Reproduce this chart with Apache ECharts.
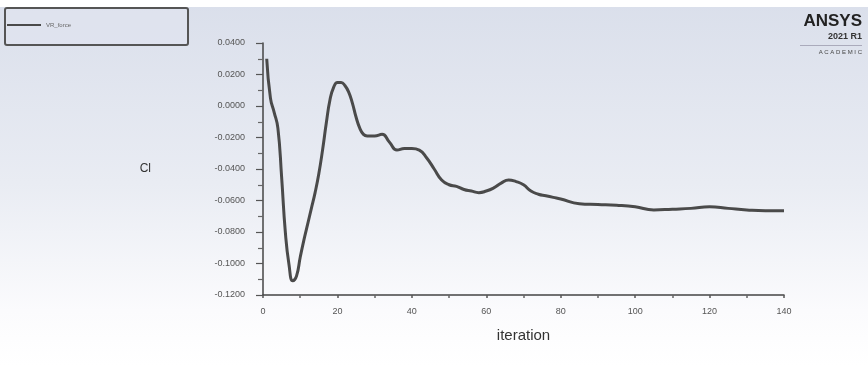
<!DOCTYPE html>
<html>
<head>
<meta charset="utf-8">
<script src="https://cdn.jsdelivr.net/npm/echarts@6/dist/echarts.min.js"></script>
<style>
  html, body { margin: 0; padding: 0; }
  #cl-chart { width: 868px; height: 366px; }
</style>
</head>
<body>
<div id="cl-chart"></div>
<script>
// 迭代步
var iterations = [1, 2, 3, 4, 5, 6, 7, 8, 9, 10, 11, 12, 13, 14, 15, 16, 17, 18, 19, 20,
  21, 22, 23, 24, 25, 26, 27, 28, 30, 32, 34, 36, 38, 40, 42, 44, 46, 48, 50, 52,
  54, 56, 58, 60, 62, 64, 66, 68, 70, 72, 74, 76, 78, 80, 85, 90, 95, 100, 105, 110,
  115, 120, 125, 130, 135, 140];
// Cl 值
var clValues = [0.030, 0.005, -0.004, -0.014, -0.045, -0.080, -0.101, -0.111, -0.108, -0.096,
  -0.085, -0.075, -0.065, -0.055, -0.043, -0.028, -0.011, 0.004, 0.012, 0.015,
  0.015, 0.013, 0.009, 0.002, -0.007, -0.014, -0.018, -0.019, -0.019, -0.018,
  -0.023, -0.028, -0.027, -0.027, -0.028, -0.033, -0.040, -0.047, -0.050, -0.051,
  -0.053, -0.054, -0.055, -0.054, -0.052, -0.049, -0.047, -0.048, -0.050, -0.054,
  -0.056, -0.057, -0.058, -0.059, -0.062, -0.0625, -0.063, -0.064, -0.066, -0.0655,
  -0.065, -0.064, -0.065, -0.066, -0.0665, -0.0665];
var seriesName = 'VR_force';

var myEcharts = echarts.init(document.getElementById('cl-chart'));
var points = iterations.map(function (it, i) { return [it, clValues[i]]; });
var fontFam = '"Liberation Sans", Arial, sans-serif';

myEcharts.setOption({
    animation: false,
    backgroundColor: new echarts.graphic.LinearGradient(0, 0, 0, 1, [
        {offset: 0, color: '#dadfeb'},
        {offset: 0.5, color: '#e9ecf3'},
        {offset: 0.85, color: '#fbfbfd'},
        {offset: 1, color: '#ffffff'}
    ]),
    grid: {left: 263, right: 84, top: 43, bottom: 71},
    legend: {
        left: 5,
        top: 8,
        orient: 'horizontal',
        data: [{name: seriesName, icon: 'rect'}],
        itemWidth: 34,
        itemHeight: 2,
        itemGap: 2,
        padding: [14, 117, 17, 2],
        borderColor: '#555',
        borderWidth: 2,
        borderRadius: 2,
        backgroundColor: 'rgba(225,229,240,0.6)',
        textStyle: {fontSize: 6, color: '#666', fontFamily: fontFam}
    },
    xAxis: {
        type: 'value',
        min: 0,
        max: 140,
        interval: 20,
        name: 'iteration',
        nameLocation: 'middle',
        nameGap: 33,
        nameTextStyle: {fontSize: 15, color: '#333', fontFamily: fontFam},
        axisLine: {onZero: false, lineStyle: {color: '#444', width: 1.5}},
        axisTick: {show: true, length: 3, lineStyle: {color: '#555', width: 1.5}},
        minorTick: {show: true, splitNumber: 2, length: 3, lineStyle: {color: '#666', width: 1.5}},
        splitLine: {show: false},
        axisLabel: {fontSize: 9, color: '#555', margin: 12, fontFamily: fontFam}
    },
    yAxis: {
        type: 'value',
        min: -0.12,
        max: 0.04,
        interval: 0.02,
        name: 'Cl',
        nameLocation: 'middle',
        nameRotate: 0,
        nameGap: 112,
        nameTextStyle: {fontSize: 12, color: '#333', fontFamily: fontFam},
        axisLine: {show: true, onZero: false, lineStyle: {color: '#444', width: 1.5}},
        axisTick: {show: true, length: 7, lineStyle: {color: '#555', width: 1.2}},
        minorTick: {show: true, splitNumber: 2, length: 5, lineStyle: {color: '#666', width: 1.2}},
        splitLine: {show: false},
        axisLabel: {
            fontSize: 9, color: '#555', margin: 18, fontFamily: fontFam,
            formatter: function (v) { return v.toFixed(4); }
        }
    },
    series: [{
        name: seriesName,
        type: 'line',
        data: points,
        smooth: 0.5,
        symbol: 'none',
        lineStyle: {color: '#4a4a4a', width: 3},
        itemStyle: {color: '#4a4a4a'}
    }],
    graphic: [
        {type: 'rect', left: 0, top: 0, z: -1, shape: {width: 868, height: 7}, style: {fill: '#ffffff'}},
        {type: 'text', right: 6, top: 13, style: {text: 'ANSYS', font: 'bold 17px ' + fontFam, fill: '#222'}},
        {type: 'text', right: 6, top: 32, style: {text: '2021 R1', font: 'bold 9px ' + fontFam, fill: '#333'}},
        {type: 'rect', left: 800, top: 45, shape: {width: 62, height: 1}, style: {fill: '#aab'}},
        {type: 'text', right: 6, top: 49, style: {text: 'A C A D E M I C', font: '6px ' + fontFam, fill: '#444'}}
    ]
});
</script>
</body>
</html>
